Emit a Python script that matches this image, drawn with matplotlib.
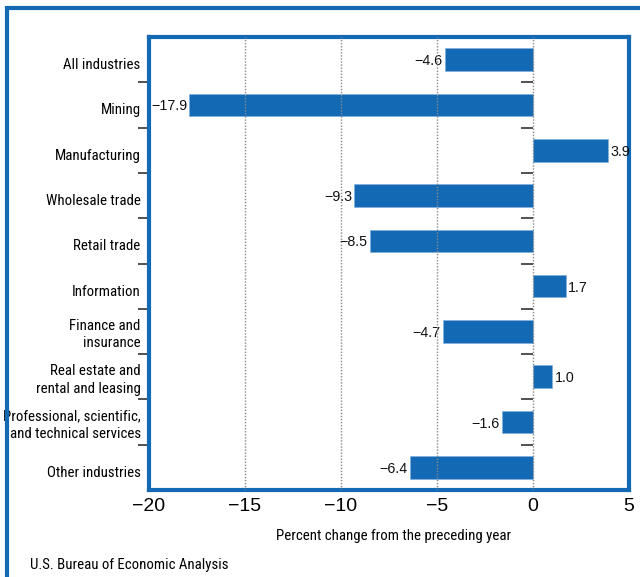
import numpy as np
import matplotlib
matplotlib.use("Agg")
import matplotlib.pyplot as plt
from matplotlib.patches import Rectangle
from matplotlib.transforms import ScaledTranslation

plt.rcParams['font.family'] = ['Roboto Condensed', 'Liberation Sans', 'DejaVu Sans']

industries = ['All industries', 'Mining', 'Manufacturing', 'Wholesale trade',
              'Retail trade', 'Information', 'Finance and\ninsurance',
              'Real estate and\nrental and leasing',
              'Professional, scientific,\nand technical services',
              'Other industries']
pct_change = [-4.6, -17.9, 3.9, -9.3, -8.5, 1.7, -4.7, 1.0, -1.6, -6.4]
xticks = [-20, -15, -10, -5, 0, 5]

blue = '#1469b4'
num_font = ['Liberation Sans', 'DejaVu Sans']

fig = plt.figure(figsize=(6.4, 5.77), dpi=100)
ax = fig.add_axes([149/640, 1 - 490/577, 480/640, 453/577])

y = np.arange(len(industries))
ax.barh(y, pct_change, height=0.5, color=blue, edgecolor='#7fb0dc', linewidth=0.5, zorder=2)

for yi, v in zip(y, pct_change):
    txt = f'{v:.1f}'.replace('-', '\u2212')
    if v < 0:
        ax.text(v - 0.12, yi, txt, ha='right', va='center_baseline', fontsize=10.3,
                color='#111111', family=num_font)
    else:
        ax.text(v + 0.12, yi, txt, ha='left', va='center_baseline', fontsize=10.3,
                color='#111111', family=num_font)

# dotted vertical grid
for g in [-15, -10, -5, 0]:
    ax.axvline(g, color='#888888', linestyle=(0, (1, 1.2)), linewidth=1, zorder=3)

# small separator ticks on the zero line
bounds = y[:-1] + 0.5
ax.hlines(bounds, -0.6, 0, color='#333333', linewidth=1.2, zorder=4)

ax.set_xlim(-20, 5)
ax.set_ylim(len(industries) - 0.5, -0.5)
ax.set_xticks(xticks)
ax.set_xticklabels([str(t).replace('-', '\u2212') for t in xticks],
                   fontsize=14, family=num_font)
ax.tick_params(axis='x', length=0, pad=6)

ax.set_yticks(bounds)
ax.set_yticklabels([])
ax.tick_params(axis='y', length=8, width=1.2, color='#333333', direction='out')
ax.set_yticks(y, minor=True)
ax.set_yticklabels(industries, minor=True, fontsize=10.7, linespacing=1.3)
ax.tick_params(axis='y', which='minor', length=0, pad=6)
shift = ScaledTranslation(0, -4/100, fig.dpi_scale_trans)
for lab in ax.get_yticklabels(minor=True):
    lab.set_horizontalalignment('right')
    lab.set_multialignment('right')
    if '\n' not in lab.get_text():
        lab.set_transform(lab.get_transform() + shift)

for s in ax.spines.values():
    s.set_color(blue)
    s.set_linewidth(3)

ax.set_xlabel('Percent change from the preceding year', fontsize=10.7, labelpad=11)
ax.xaxis.set_label_coords(0.51, -0.085)

fig.text(30/640, 1 - 565/577, 'U.S. Bureau of Economic Analysis', fontsize=10.7,
         va='center', ha='left')

frame = Rectangle((7/640, -0.2), 1.2, 1 - 8/577 + 0.2, transform=fig.transFigure,
                  fill=False, edgecolor=blue, linewidth=3, clip_on=False)
fig.patches.append(frame)

fig.savefig('out.png', dpi=100)
